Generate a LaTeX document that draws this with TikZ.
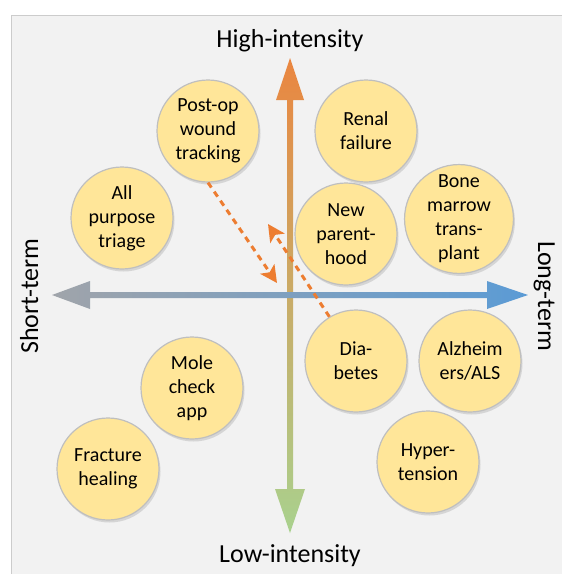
\documentclass[tikz,border=0pt]{standalone}
\usepackage{fontspec}
\setmainfont{Carlito}
\usetikzlibrary{arrows.meta,shadows}
\definecolor{bubblefill}{HTML}{FFE699}
\definecolor{bubbleline}{HTML}{BFBFBF}
\definecolor{dashorange}{HTML}{ED7D31}
\definecolor{hiorange}{HTML}{EA8640}
\definecolor{midtan}{HTML}{D3A76E}
\definecolor{logreen}{HTML}{A9D18E}
\definecolor{shortgray}{HTML}{A0A4AA}
\definecolor{midblue}{HTML}{8CA7C8}
\definecolor{longblue}{HTML}{5B9BD5}
\begin{document}
\begin{tikzpicture}[x=1pt, y=-1pt, bubble/.style={circle, draw=bubbleline, line width=1.2pt, fill=bubblefill, minimum size=102pt, inner sep=0pt, align=center, font=\fontsize{20}{24}\selectfont, drop shadow={opacity=0.25, shadow xshift=1.5pt, shadow yshift=-2.5pt}}, axislabel/.style={font=\fontsize{26}{30}\selectfont, anchor=base, inner sep=0pt}, trend/.style={draw=dashorange, line width=3pt, dash pattern=on 6pt off 5pt, -{Stealth[length=17pt,width=17pt,inset=4pt]}}]

\useasboundingbox (0,0) rectangle (562,574);
\clip (0,0) rectangle (562,574);
\draw[draw=black!20, fill=black!5] (11,15) rectangle (580,590);

% axes
\shade[top color=hiorange, middle color=midtan, bottom color=logreen] (290,58) -- (304,100) -- (293,100) -- (293,489) -- (305,489) -- (290,533) -- (275,489) -- (287,489) -- (287,100) -- (276,100) -- cycle;
\shade[left color=shortgray, middle color=midblue, right color=longblue] (52,295) -- (90,281) -- (90,292) -- (487,292) -- (487,281) -- (528,295) -- (487,309) -- (487,298) -- (90,298) -- (90,309) -- cycle;

\node[axislabel] (high) at (290,47) {High-intensity};
\node[axislabel] (low) at (290,562) {Low-intensity};
\node[axislabel, rotate=90] (short) at (38,296) {Short-term};
\node[axislabel, rotate=-90] (long) at (538,296) {Long-term};

\node[bubble] (postop) at (208,131) {Post-op\\wound\\tracking};
\node[bubble] (triage) at (122,218) {All\\purpose\\triage};
\node[bubble] (renal) at (366,131) {Renal\\failure};
\node[bubble] (parent) at (346,234) {New\\parent-\\hood};
\node[bubble] (marrow) at (459,219) {Bone\\marrow\\trans-\\plant};
\node[bubble] (diabetes) at (356,361) {Dia-\\betes};
\node[bubble] (alzheimers) at (470,361) {Alzheim\\ers/ALS};
\node[bubble] (hyper) at (428,462) {Hyper-\\tension};
\node[bubble] (mole) at (192,388) {Mole\\check\\app};
\node[bubble] (fracture) at (108,469) {Fracture\\healing};

\coordinate (downend) at (277,283);
\coordinate (upend) at (268,224);
\draw [trend] (postop.south) -- (downend);
\draw [trend] (diabetes.121) -- (upend);

\end{tikzpicture}
\end{document}
